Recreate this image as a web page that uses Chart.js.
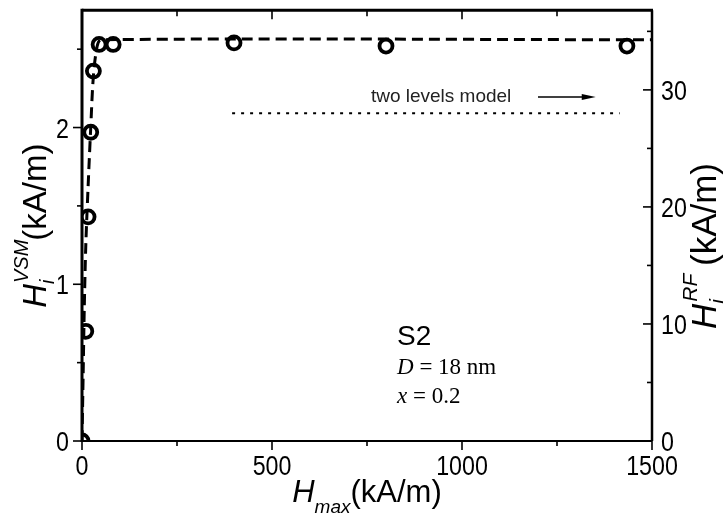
<!DOCTYPE html>
<html>
<head>
<meta charset="utf-8">
<script src="https://cdn.jsdelivr.net/npm/chart.js@4.4.1/dist/chart.umd.min.js"></script>
<style>
  html, body { margin: 0; padding: 0; background: #fff; }
</style>
</head>
<body>
<canvas id="chart" width="723" height="520"></canvas>
<script>
// measured points, left axis (kA/m)
var hmax = [0, 10, 16, 23, 30, 45, 82, 400, 800, 1434];
var hiVsm = [0, 0.70, 1.43, 1.97, 2.36, 2.53, 2.53, 2.54, 2.52, 2.52];

// dashed guide curve
var fitH = [0, 3, 6, 10, 16, 23, 30, 40, 50, 1500];
var fitHi = [0, 0.42, 0.85, 1.25, 1.62, 2.0, 2.33, 2.52, 2.56, 2.56];

// two levels model, right axis
var modelH = [395, 1415];
var modelRf = [28, 28];

var xTicks = [0, 500, 1000, 1500];
var xMinor = [250, 750, 1250];
var leftTicks = [0, 1, 2];
var leftMinor = [0.5, 1.5, 2.5];
var rightTicks = [0, 10, 20, 30];
var rightMinor = [5, 15, 25, 35];

var sans = "'Liberation Sans', Arial, sans-serif";
var serif = "'Liberation Serif', 'Times New Roman', serif";

function pts(xs, ys) {
  return xs.map(function (v, i) { return { x: v, y: ys[i] }; });
}

// narrow tick numbers, like the original figure
function num(ctx, text, x, y, align) {
  ctx.save();
  ctx.translate(x, y);
  ctx.scale(0.86, 1);
  ctx.font = '27px ' + sans;
  ctx.fillStyle = '#000';
  ctx.textAlign = align;
  ctx.textBaseline = 'alphabetic';
  ctx.fillText(text, 0, 0);
  ctx.restore();
}

function rich(ctx, groups, x, y, angle, align) {
  ctx.save();
  ctx.translate(x, y);
  ctx.rotate(angle || 0);
  ctx.textBaseline = 'alphabetic';
  ctx.textAlign = 'left';
  ctx.fillStyle = '#000';
  var adv = [], total = 0;
  groups.forEach(function (g) {
    var m = 0;
    g.forEach(function (p) { ctx.font = p.font; m = Math.max(m, ctx.measureText(p.text).width); });
    adv.push(m);
    total += m;
  });
  var cx = align === 'left' ? 0 : -total / 2;
  groups.forEach(function (g, k) {
    g.forEach(function (p) { ctx.font = p.font; ctx.fillText(p.text, cx + (p.dx || 0), p.dy || 0); });
    cx += adv[k];
  });
  ctx.restore();
}

var decor = {
  id: 'decor',
  afterDraw: function (chart) {
    var ctx = chart.ctx, a = chart.chartArea;
    var xs = chart.scales.x, yl = chart.scales.y, yr = chart.scales.y2;
    ctx.save();
    ctx.strokeStyle = '#000';
    ctx.lineCap = 'butt';

    // frame
    ctx.lineWidth = 3;
    ctx.beginPath(); ctx.moveTo(a.left, a.top - 1.5); ctx.lineTo(a.left, a.bottom + 1); ctx.stroke();
    ctx.beginPath(); ctx.moveTo(a.left, a.top); ctx.lineTo(a.right + 1, a.top); ctx.stroke();
    ctx.lineWidth = 2.5;
    ctx.beginPath(); ctx.moveTo(a.right, a.top); ctx.lineTo(a.right, a.bottom); ctx.stroke();
    ctx.lineWidth = 2;
    ctx.beginPath(); ctx.moveTo(a.left, a.bottom); ctx.lineTo(a.right, a.bottom); ctx.stroke();

    // ticks and tick numbers
    ctx.lineWidth = 1.6;
    function tick(x1, y1, x2, y2) { ctx.beginPath(); ctx.moveTo(x1, y1); ctx.lineTo(x2, y2); ctx.stroke(); }
    xTicks.forEach(function (v) {
      var p = xs.getPixelForValue(v);
      tick(p, a.bottom, p, a.bottom + 9);
      tick(p, a.top, p, a.top + 9);
      num(ctx, String(v), p, a.bottom + 34, 'center');
    });
    xMinor.forEach(function (v) {
      var p = xs.getPixelForValue(v);
      tick(p, a.bottom, p, a.bottom + 5);
      tick(p, a.top, p, a.top + 6);
    });
    leftTicks.forEach(function (v) {
      var p = yl.getPixelForValue(v);
      tick(a.left, p, a.left - 9, p);
      num(ctx, String(v), a.left - 13, p + 10, 'right');
    });
    leftMinor.forEach(function (v) { var p = yl.getPixelForValue(v); tick(a.left, p, a.left - 5, p); });
    rightTicks.forEach(function (v) {
      var p = yr.getPixelForValue(v);
      tick(a.right, p, a.right - 9, p);
      num(ctx, String(v), a.right + 9, p + 10, 'left');
    });
    rightMinor.forEach(function (v) { var p = yr.getPixelForValue(v); tick(a.right, p, a.right - 5, p); });

    // arrow next to the model label
    var ay = yr.getPixelForValue(29.4);
    var ax1 = xs.getPixelForValue(1200), ax2 = xs.getPixelForValue(1352);
    ctx.lineWidth = 1.5;
    tick(ax1, ay, ax2 - 10, ay);
    ctx.fillStyle = '#000';
    ctx.beginPath(); ctx.moveTo(ax2, ay); ctx.lineTo(ax2 - 14, ay - 3); ctx.lineTo(ax2 - 14, ay + 3); ctx.closePath(); ctx.fill();

    ctx.font = '19px ' + sans;
    ctx.fillStyle = '#222';
    ctx.textAlign = 'center';
    ctx.textBaseline = 'middle';
    ctx.fillText('two levels model', xs.getPixelForValue(945), ay);
    ctx.restore();

    // sample labels
    var lx = xs.getPixelForValue(829);
    rich(ctx, [[{ text: 'S2', font: '28px ' + sans }]], lx, yl.getPixelForValue(0.61), 0, 'left');
    rich(ctx, [[{ text: 'D', font: 'italic 23px ' + serif }], [{ text: ' = 18 nm', font: '23px ' + serif }]],
      lx, yl.getPixelForValue(0.43), 0, 'left');
    rich(ctx, [[{ text: 'x', font: 'italic 23px ' + serif }], [{ text: ' = 0.2', font: '23px ' + serif }]],
      lx, yl.getPixelForValue(0.24), 0, 'left');

    // axis titles
    var big = '31px ' + sans, bigI = 'italic 31px ' + sans, smI = 'italic 19px ' + sans;
    rich(ctx, [[{ text: 'H', font: bigI }], [{ text: 'max', font: smI, dy: 11 }], [{ text: '(kA/m)', font: big }]],
      (a.left + a.right) / 2, 502, 0);
    var tbig = '33px ' + sans, tbigI = 'italic 33px ' + sans, tsmI = 'italic 20px ' + sans;
    rich(ctx, [[{ text: 'H', font: tbigI }], [{ text: 'i', font: tsmI, dy: 8 }, { text: 'VSM', font: tsmI, dy: -18, dx: 1 }], [{ text: '(kA/m)', font: tbig }]],
      46, (a.top + a.bottom) / 2, -Math.PI / 2);
    var rbig = '35px ' + sans, rbigI = 'italic 35px ' + sans, rsmI = 'italic 21px ' + sans;
    rich(ctx, [[{ text: 'H', font: rbigI }], [{ text: 'i', font: rsmI, dy: 8 }, { text: 'RF', font: rsmI, dy: -19, dx: 2 }], [{ text: ' (kA/m)', font: rbig }]],
      716, 246, -Math.PI / 2);
  }
};

var noPad = function (s) { s.paddingTop = 0; s.paddingBottom = 0; };

new Chart(document.getElementById('chart'), {
  type: 'scatter',
  data: {
    datasets: [
      {
        label: 'fit',
        data: pts(fitH, fitHi),
        showLine: true,
        borderColor: '#000',
        borderWidth: 3,
        borderDash: [11, 6],
        pointRadius: 0,
        tension: 0.3,
        yAxisID: 'y',
        clip: 0
      },
      {
        label: 'two levels model',
        data: pts(modelH, modelRf),
        showLine: true,
        borderColor: '#000',
        borderWidth: 2,
        borderDash: [3, 6],
        pointRadius: 0,
        yAxisID: 'y2'
      },
      {
        label: 'VSM',
        data: pts(hmax, hiVsm),
        showLine: false,
        pointRadius: 6.5,
        pointBorderWidth: 3.8,
        pointBackgroundColor: '#fff',
        pointBorderColor: '#000',
        yAxisID: 'y',
        clip: 0
      }
    ]
  },
  options: {
    responsive: false,
    animation: false,
    devicePixelRatio: 1,
    layout: { padding: { top: 4, left: 0, right: 0, bottom: 0 } },
    plugins: { legend: { display: false }, tooltip: { enabled: false } },
    scales: {
      x: {
        type: 'linear', position: 'bottom', min: 0, max: 1500,
        afterBuildTicks: function (s) { s.ticks = xTicks.map(function (v) { return { value: v }; }); },
        afterFit: function (s) { s.height = 79; },
        ticks: { display: false },
        grid: { display: false },
        border: { display: false }
      },
      y: {
        type: 'linear', position: 'left', min: 0, max: 2.748,
        afterBuildTicks: function (s) { s.ticks = leftTicks.map(function (v) { return { value: v }; }); },
        afterFit: function (s) { s.width = 82; noPad(s); },
        ticks: { display: false },
        grid: { display: false },
        border: { display: false }
      },
      y2: {
        type: 'linear', position: 'right', min: 0, max: 36.8,
        afterBuildTicks: function (s) { s.ticks = rightTicks.map(function (v) { return { value: v }; }); },
        afterFit: function (s) { s.width = 71; noPad(s); },
        ticks: { display: false },
        grid: { display: false },
        border: { display: false }
      }
    }
  },
  plugins: [decor]
});
</script>
</body>
</html>
